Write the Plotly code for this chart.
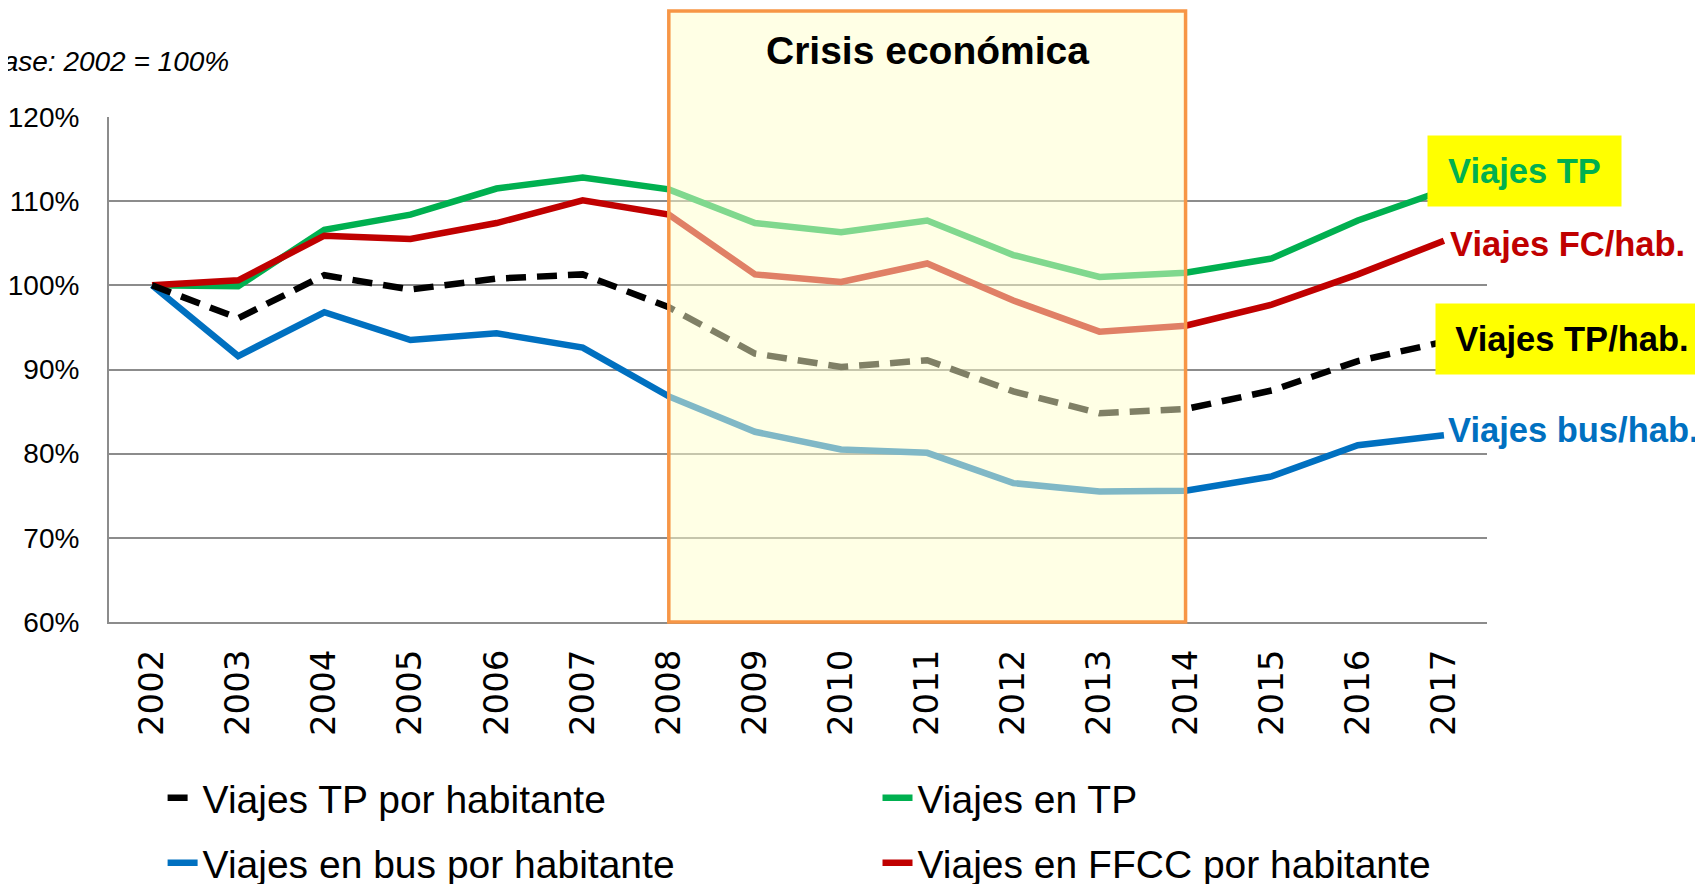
import plotly.graph_objects as go

YEARS = list(range(2002, 2018))

TP_HAB = [100, 96.1, 101.2, 99.5, 100.8, 101.3, 97.4, 91.9, 90.3, 91.1, 87.4, 84.8, 85.3, 87.5, 91.0, 93.3]
TP_TOTAL = [100, 99.9, 106.6, 108.4, 111.5, 112.8, 111.4, 107.4, 106.3, 107.7, 103.6, 101.0, 101.5, 103.2, 107.7, 111.3]
BUS_HAB = [100, 91.6, 96.8, 93.5, 94.3, 92.6, 86.8, 82.6, 80.5, 80.1, 76.5, 75.5, 75.6, 77.3, 81.0, 82.2]
FFCC_HAB = [100, 100.6, 105.9, 105.5, 107.4, 110.1, 108.4, 101.3, 100.4, 102.6, 98.2, 94.5, 95.2, 97.7, 101.3, 105.3]

CRISIS_START, CRISIS_END = 2008, 2014

SANS = "Liberation Sans, Arial, sans-serif"
GRID = "#8C8C8C"

fig = go.Figure()

# draw order: green, red, blue, black; each trace gets its own legend slot
series = [
    ("Viajes en TP", TP_TOTAL, "#00B050", "solid", "legend2"),
    ("Viajes en FFCC por habitante", FFCC_HAB, "#C00000", "solid", "legend4"),
    ("Viajes en bus por habitante", BUS_HAB, "#0070C0", "solid", "legend3"),
    ("Viajes TP por habitante", TP_HAB, "#000000", "20px,11px", "legend"),
]
for name, vals, color, dash, leg in series:
    fig.add_trace(go.Scatter(
        x=YEARS, y=vals, name=name, mode="lines",
        line=dict(color=color, width=6.5, dash=dash),
        legend=leg,
    ))

fig.add_shape(
    type="rect", xref="x", yref="paper",
    x0=CRISIS_START, x1=CRISIS_END, y0=0, y1=1.21,
    fillcolor="rgba(255,255,204,0.5)",
    line=dict(color="#F79646", width=3.5),
    layer="above",
)

fig.add_annotation(
    text="<b>Crisis económica</b>", xref="x", yref="paper",
    x=(CRISIS_START + CRISIS_END) / 2, y=1.131, yanchor="middle", showarrow=False,
    font=dict(family=SANS, size=39, color="black"),
)
fig.add_annotation(
    text="<i>Base: 2002 = 100%</i>", xref="paper", yref="paper",
    x=0.0885, y=1.109, xanchor="right", yanchor="middle", showarrow=False,
    font=dict(family=SANS, size=28, color="black"),
)

# end-of-line labels
labels = [
    ("Viajes TP", TP_TOTAL[-1] + 2.3, "#00B050", "#FFFF00", 81, 193, 70),
    ("Viajes FC/hab.", FFCC_HAB[-1] - 0.4, "#C00000", None, 124, None, None),
    ("Viajes TP/hab.", TP_HAB[-1] + 0.3, "#000000", "#FFFF00", 128, 272, 70),
    ("Viajes bus/hab.", BUS_HAB[-1] + 0.6, "#0070C0", None, 130, None, None),
]
for text, yv, color, bg, shift, w, h in labels:
    kw = dict(bgcolor=bg, width=w, height=h, borderpad=0) if bg else {}
    fig.add_annotation(
        text=f"<b>{text}</b>", xref="x", yref="y", x=YEARS[-1], y=yv,
        xshift=shift, showarrow=False,
        font=dict(family=SANS, size=34.5, color=color), **kw,
    )

legend_font = dict(family=SANS, size=39, color="black")
legend_pos = {"legend": (0.0389, -0.3485), "legend2": (0.5577, -0.3485),
              "legend3": (0.0389, -0.4772), "legend4": (0.5577, -0.4772)}
legends = {
    key: dict(x=x, y=y, xanchor="left", yanchor="middle", orientation="h",
              font=legend_font, bgcolor="rgba(0,0,0,0)")
    for key, (x, y) in legend_pos.items()
}

fig.update_layout(
    width=1703, height=884,
    paper_bgcolor="white", plot_bgcolor="white",
    margin=dict(l=101, r=224, t=109, b=270, autoexpand=False),
    showlegend=True,
    **legends,
)
fig.update_xaxes(
    range=[2001.5, 2017.5], tickmode="array", tickvals=YEARS,
    ticktext=[str(y) for y in YEARS], tickangle=-90,
    tickfont=dict(family="DejaVu Sans", size=34, color="black"),
    ticks="outside", ticklen=12, tickcolor="rgba(0,0,0,0)",
    showgrid=False, showline=True, linecolor=GRID, linewidth=2, zeroline=False,
    automargin=False,
)
fig.update_yaxes(
    range=[60, 120], dtick=10, ticksuffix="%",
    tickfont=dict(family=SANS, size=28, color="black"),
    ticks="outside", ticklen=22, tickcolor="rgba(0,0,0,0)",
    showgrid=True, gridcolor=GRID, gridwidth=2,
    showline=True, linecolor=GRID, linewidth=2, zeroline=False,
    automargin=False,
)

fig.write_html("out.html")
